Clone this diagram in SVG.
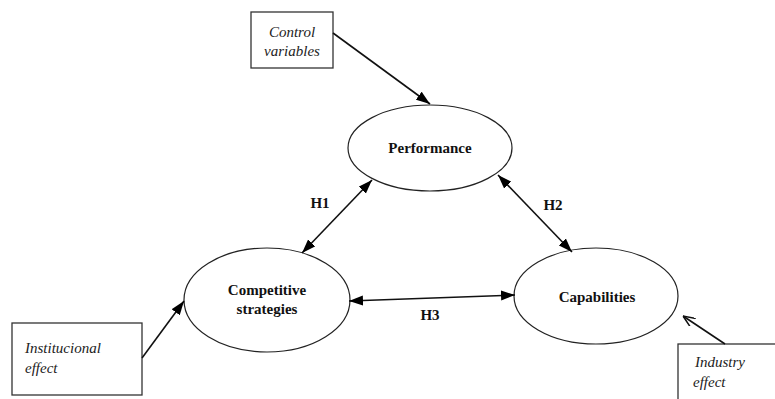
<svg xmlns="http://www.w3.org/2000/svg" width="775" height="399" viewBox="0 0 775 399">
<style>
.ell{fill:#fff;stroke:#222;stroke-width:1.2}
.box{fill:#fff;stroke:#333;stroke-width:1.3}
.lbl{font-family:"Liberation Serif","Times New Roman",serif;font-weight:bold;font-size:15px;fill:#111;text-anchor:middle}
.it{font-family:"Liberation Serif","Times New Roman",serif;font-style:italic;font-size:15px;fill:#222}
.ln{stroke:#111;stroke-width:1.6;fill:none}
.h{font-family:"Liberation Serif","Times New Roman",serif;font-weight:bold;font-size:15px;fill:#111;text-anchor:middle}
</style>
<defs>
<marker id="ahF" viewBox="0 0 14 10" refX="14" refY="5" markerWidth="14" markerHeight="11" markerUnits="userSpaceOnUse" orient="auto-start-reverse">
<path d="M0,0 L14,5 L0,10 Z" fill="#000"/>
</marker>
<marker id="ahO" viewBox="0 0 12 10" refX="12" refY="5" markerWidth="12" markerHeight="10" markerUnits="userSpaceOnUse" orient="auto">
<path d="M0,0 L12,5 L0,10" fill="none" stroke="#111" stroke-width="1.5"/>
</marker>
</defs>
<rect width="775" height="399" fill="#fff"/>
<g id="performance"><ellipse class="ell" cx="430" cy="148" rx="82" ry="43"/><text class="lbl" x="430" y="153">Performance</text></g>
<g id="competitive"><ellipse class="ell" cx="267" cy="300" rx="83" ry="52"/><text class="lbl" x="267" y="295">Competitive</text><text class="lbl" x="267" y="314">strategies</text></g>
<g id="capabilities"><ellipse class="ell" cx="596" cy="296" rx="82" ry="48"/><text class="lbl" x="597" y="302">Capabilities</text></g>
<g id="control"><rect class="box" x="251" y="12" width="82" height="56"/><text class="it" x="292" y="37" text-anchor="middle">Control</text><text class="it" x="292" y="56" text-anchor="middle">variables</text></g>
<g id="institucional"><rect class="box" x="12" y="323" width="130" height="72"/><text class="it" x="25" y="353">Institucional</text><text class="it" x="25" y="373">effect</text></g>
<g id="industry"><rect class="box" x="678" y="344" width="110" height="70"/><text class="it" x="695" y="367">Industry</text><text class="it" x="693" y="387">effect</text></g>
<g id="connectors">
<line class="ln" x1="333" y1="33" x2="430" y2="104" marker-end="url(#ahF)"/>
<line class="ln" x1="142" y1="358" x2="184" y2="301" marker-end="url(#ahF)"/>
<line class="ln" x1="725" y1="344" x2="683" y2="316" marker-end="url(#ahO)"/>
<line class="ln" x1="372" y1="180" x2="302" y2="253" marker-start="url(#ahF)" marker-end="url(#ahF)"/>
<line class="ln" x1="498" y1="175" x2="572" y2="252" marker-start="url(#ahF)" marker-end="url(#ahF)"/>
<line class="ln" x1="349" y1="301" x2="515" y2="295" marker-start="url(#ahF)" marker-end="url(#ahF)"/>
</g>
<text class="h" x="320" y="208">H1</text>
<text class="h" x="553" y="210">H2</text>
<text class="h" x="430" y="320">H3</text>
</svg>
